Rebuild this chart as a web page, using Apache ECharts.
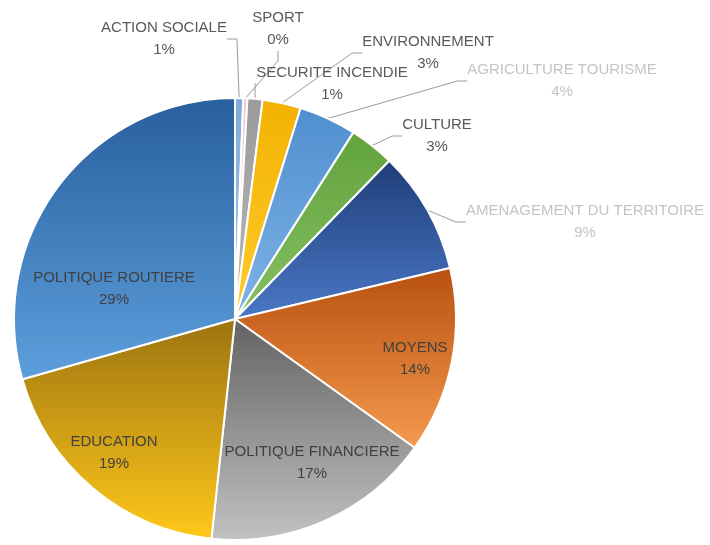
<!DOCTYPE html>
<html>
<head>
<meta charset="utf-8">
<script src="https://cdn.jsdelivr.net/npm/echarts@6/dist/echarts.min.js"></script>
<style>
html,body{margin:0;padding:0;background:#fff;}
#chart{width:710px;height:545px;}
</style>
</head>
<body>
<div id="chart"></div>
<script>
// ---- data ----
const categories = ['ACTION SOCIALE','SPORT','SECURITE INCENDIE','ENVIRONNEMENT','AGRICULTURE TOURISME','CULTURE','AMENAGEMENT DU TERRITOIRE','MOYENS','POLITIQUE FINANCIERE','EDUCATION','POLITIQUE ROUTIERE'];
const values = [0.6, 0.3, 1.1, 2.8, 4.2, 3.3, 9.0, 13.6, 16.8, 18.9, 29.4];
const insideLabelCategories = ['MOYENS','POLITIQUE FINANCIERE','EDUCATION','POLITIQUE ROUTIERE'];

// ---- styles ----
const gradTop = ['#7fa9dc','#f2c9cf','#9a9a9a','#f2b200','#4f8fcf','#62a33e','#1f3e78','#b8500f','#626262','#9c7410','#285f9e'];
const gradBottom = ['#a9c8ee','#fbe3e6','#b8b8b8','#ffcb2f','#7fb3e6','#86c062','#4a78c6','#f59a4e','#c2c2c2','#ffc81a','#5d9fdc'];
const faintLabels = ['AGRICULTURE TOURISME','AMENAGEMENT DU TERRITOIRE'];
// label block centres (label placement only)
const labelCenters = {
  'ACTION SOCIALE': [164, 39],
  'SPORT': [278, 29],
  'SECURITE INCENDIE': [332, 84],
  'ENVIRONNEMENT': [428, 53],
  'AGRICULTURE TOURISME': [562, 81],
  'CULTURE': [437, 136],
  'AMENAGEMENT DU TERRITOIRE': [585, 222],
  'MOYENS': [415, 359],
  'POLITIQUE FINANCIERE': [312, 463],
  'EDUCATION': [114, 453],
  'POLITIQUE ROUTIERE': [114, 289]
};

const chart = echarts.init(document.getElementById('chart'));
const seriesData = categories.map((name, i) => {
  const inside = insideLabelCategories.indexOf(name) >= 0;
  return {
    name: name,
    value: values[i],
    itemStyle: {
      color: new echarts.graphic.LinearGradient(0, 0, 0, 1, [
        {offset: 0, color: gradTop[i]},
        {offset: 1, color: gradBottom[i]}
      ])
    },
    label: {
      position: inside ? 'inside' : 'outside',
      color: inside ? '#404040' : (faintLabels.indexOf(name) >= 0 ? '#c4c4c4' : '#595959')
    },
    labelLine: {show: !inside}
  };
});

chart.setOption({
  animation: false,
  backgroundColor: '#ffffff',
  series: [{
    type: 'pie',
    center: [235, 319],
    radius: 221,
    startAngle: 90,
    clockwise: true,
    avoidLabelOverlap: false,
    itemStyle: {borderColor: '#ffffff', borderWidth: 2},
    label: {
      show: true,
      fontFamily: 'Liberation Sans',
      fontSize: 15,
      lineHeight: 22,
      align: 'center',
      formatter: p => p.name + '\n' + Math.round(p.percent) + '%'
    },
    labelLine: {
      show: true,
      length: 10,
      length2: 10,
      lineStyle: {color: '#9a9a9a', width: 1}
    },
    labelLayout: function (params) {
      const name = categories[params.dataIndex];
      const c = labelCenters[name];
      return {x: c[0], y: c[1], align: 'center', verticalAlign: 'middle'};
    },
    emphasis: {disabled: true},
    data: seriesData
  }]
});
</script>
</body>
</html>
